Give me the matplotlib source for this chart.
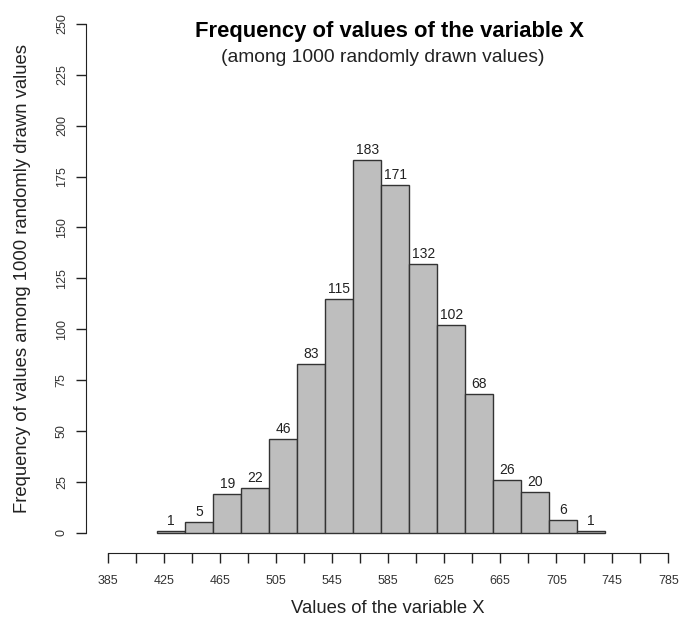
import numpy as np
import matplotlib
matplotlib.use("Agg")
import matplotlib.pyplot as plt

plt.rcParams['font.family'] = ['Liberation Sans', 'DejaVu Sans']

# histogram data (bins of width 20 from 420 to 740)
bin_edges = np.arange(420, 741, 20)
counts = [1, 5, 19, 22, 46, 83, 115, 183, 171, 132, 102, 68, 26, 20, 6, 1]
x_ticks = np.arange(385, 786, 20)
x_labels = [str(v) if (v - 385) % 40 == 0 else "" for v in x_ticks]
y_ticks = np.arange(0, 251, 25)

fig = plt.figure(figsize=(6.79, 6.25), dpi=100)
ax = fig.add_axes([0.1265, 0.1152, 0.8907, 0.879])

lefts = bin_edges[:-1]
bars = ax.bar(lefts, counts, width=20, align='edge', color='#bebebe',
              edgecolor='#333333', linewidth=1.0)
for x0, c in zip(lefts, counts):
    ax.text(x0 + 10, c + 1.5, str(c), ha='center', va='bottom', fontsize=10,
            color='#222222')

ax.set_xlim(369, 801)
ax.set_ylim(-10, 260)

for s in ['top', 'right']:
    ax.spines[s].set_visible(False)
ax.spines['left'].set_bounds(0, 250)
ax.spines['bottom'].set_bounds(385, 785)
ax.spines['left'].set_color('#222222')
ax.spines['bottom'].set_color('#222222')

ax.set_xticks(x_ticks)
ax.set_xticklabels(x_labels)
ax.set_yticks(y_ticks)
ax.set_yticklabels([str(v) for v in y_ticks], rotation=90, va='center')
ax.tick_params(axis='both', length=7, width=1, color='#222222',
               labelcolor='#333333')
ax.tick_params(axis='x', pad=9, labelsize=9)
ax.tick_params(axis='y', pad=6, labelsize=9)

ax.set_xlabel("Values of the variable X", fontsize=13.3, color='#222222', labelpad=9)
ax.set_ylabel("Frequency of values among 1000 randomly drawn values",
              fontsize=13.3, color='#222222', labelpad=18)

fig.text(0.574, 0.950, "Frequency of values of the variable X", ha='center',
         va='center', fontsize=15.8, fontweight='bold')
fig.text(0.563, 0.908, "(among 1000 randomly drawn values)", ha='center',
         va='center', fontsize=13.9, color='#222222')

fig.savefig("out.png", dpi=100)
